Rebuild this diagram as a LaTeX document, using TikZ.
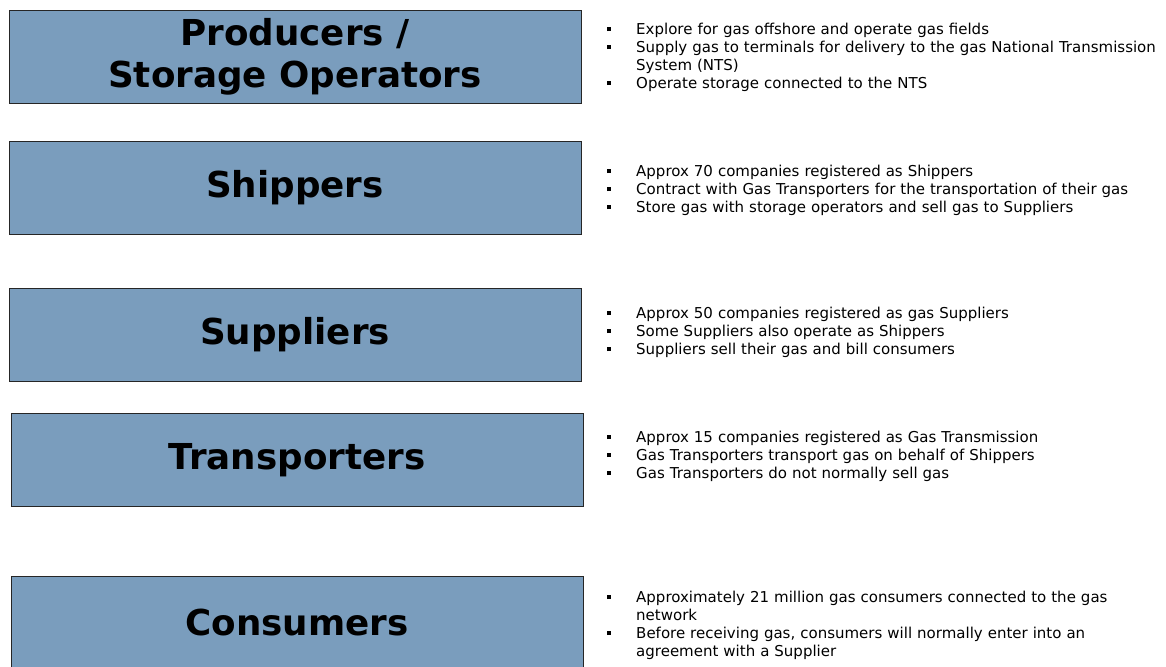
\documentclass[tikz,border=0pt]{standalone}
\usepackage{fontspec}
\setmainfont{DejaVu Sans}
\definecolor{boxblue}{RGB}{122,157,189}
% one bullet line with a hanging indent
\newcommand{\bul}{\par\hangindent=29pt\hangafter=1\noindent\makebox[29pt][l]{\rule[3pt]{4pt}{4pt}}}
\newcommand{\nl}{\hfil\break}
\begin{document}
\begin{tikzpicture}[x=1pt,y=-1pt,
    rolebox/.style={draw=black!85, line width=0.8pt, fill=boxblue, minimum width=572pt, minimum height=93pt, inner sep=0pt, align=center, font=\fontsize{35.7}{42}\selectfont\bfseries},
    notes/.style={anchor=north west, inner sep=0pt, text width=556pt, align=left, font=\fontsize{15}{18}\selectfont}]
    \useasboundingbox (0,0) rectangle (1166,666);
    % roles
    \node [rolebox] (producers) at (295,56.5) {Producers /\\Storage Operators};
    \node [rolebox] (shippers) at (295,187.5) {Shippers};
    \node [rolebox] (suppliers) at (295,334.5) {Suppliers};
    \node [rolebox] (transporters) at (297,460) {Transporters};
    \node [rolebox] (consumers) at (297,622.5) {Consumers};
    % what each of them does
    \node [notes] (producersnotes) at (607,16) {\bul Explore for gas offshore and operate gas fields
        \bul Supply gas to terminals for delivery to the gas National Transmission\nl System (NTS)
        \bul Operate storage connected to the NTS\par};
    \node [notes] (shippersnotes) at (607,158) {\bul Approx 70 companies registered as Shippers
        \bul Contract with Gas Transporters for the transportation of their gas
        \bul Store gas with storage operators and sell gas to Suppliers\par};
    \node [notes] (suppliersnotes) at (607,300) {\bul Approx 50 companies registered as gas Suppliers
        \bul Some Suppliers also operate as Shippers
        \bul Suppliers sell their gas and bill consumers\par};
    \node [notes] (transportersnotes) at (607,424) {\bul Approx 15 companies registered as Gas Transmission
        \bul Gas Transporters transport gas on behalf of Shippers
        \bul Gas Transporters do not normally sell gas\par};
    \node [notes] (consumersnotes) at (607,584) {\bul Approximately 21 million gas consumers connected to the gas\nl network
        \bul Before receiving gas, consumers will normally enter into an\nl agreement with a Supplier\par};
\end{tikzpicture}
\end{document}
